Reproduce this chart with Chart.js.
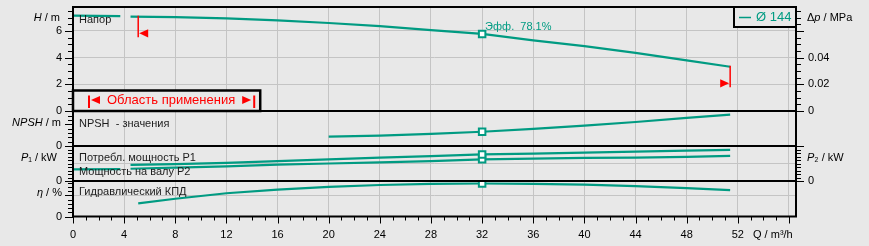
<!DOCTYPE html>
<html>
<head>
<meta charset="utf-8">
<script src="https://cdn.jsdelivr.net/npm/chart.js@4.4.1/dist/chart.umd.min.js"></script>
<style>
  body { margin: 0; background: #e8e8e8; }
  canvas { display: block; }
</style>
</head>
<body>
<canvas id="pump" width="869" height="246"></canvas>
<script>
const flowTicks = [0, 4, 8, 12, 16, 20, 24, 28, 32, 36, 40, 44, 48, 52];
const headTicks = [0, 2, 4, 6];
const dpTicks = [0, 0.02, 0.04];

const flowH = [0, 3.7, 4.1, 4.5, 8, 12, 16, 20, 24, 28, 32, 36, 40, 44, 48, 51.4];
const head = [7.15, 7.12, null, 7.08, 7.04, 6.95, 6.79, 6.6, 6.36, 6.06, 5.78, 5.3, 4.87, 4.36, 3.8, 3.32];

const flowNpsh = [20, 24, 28, 32, 36, 40, 44, 48, 51.4];
const npsh = [2.15, 2.4, 2.8, 3.3, 3.95, 4.7, 5.55, 6.5, 7.25];

const flowP1 = [4.5, 8, 12, 16, 20, 24, 28, 32, 36, 40, 44, 48, 51.4];
const powerP1 = [0.46, 0.48, 0.52, 0.57, 0.62, 0.67, 0.71, 0.76, 0.78, 0.81, 0.84, 0.87, 0.89];

const flowP2 = [0, 3.7, 4.1, 4.5, 8, 12, 16, 20, 24, 28, 32, 36, 40, 44, 48, 51.4];
const powerP2 = [0.33, 0.34, null, 0.35, 0.38, 0.42, 0.47, 0.5, 0.53, 0.57, 0.62, 0.64, 0.66, 0.67, 0.69, 0.72];

const flowEta = [5.1, 8, 12, 16, 20, 24, 28, 32, 36, 40, 44, 48, 51.4];
const efficiency = [31, 42, 55, 63.5, 70, 74.5, 77.3, 78.1, 77.3, 75.5, 72, 67, 62.5];

const bepFlow = 32;
const bepEta = 78.1;
const rangeFlow = [5.1, 51.4];
const rangeHead = [7.07, 3.32];
const impeller = 'Ø 144';

const teal = '#009b82';
const red = '#ff0000';
const bg = '#e8e8e8';
const gridGray = '#c4c4c4';
const family = "'Liberation Sans', Arial, sans-serif";
const font = { family, size: 11 };

const near = (a, b) => Math.abs(a - b) < 1e-6;
const isStep = (v, s) => near(v / s, Math.round(v / s));
const steps = (min, max, step) => {
  const out = [];
  for (let i = 0; min + i * step <= max + 1e-9; i++) out.push(+(min + i * step).toFixed(6));
  return out;
};
const pts = (xs, ys) => xs.map((x, i) => ({ x, y: ys[i] }));

const tickSteps = {
  x: [1, 4], yH: [0.5, 2], yNpsh: [1, 5], yP1: [0.1, 1], yEta: [10, 50],
  yDp: [0.005, 0.02], yP2: [0.1, 1]
};

function yAxis(pos, min, max, step, labels, grids, weight) {
  return {
    type: 'linear', position: pos, stack: pos, stackWeight: weight, min, max,
    afterFit: s => { s.width = 73; },
    afterBuildTicks: s => { s.ticks = steps(min, max, step).map(v => ({ value: v })); },
    border: { display: false },
    grid: {
      drawTicks: true, tickLength: pos === 'left' ? 11 : 12, tickColor: 'transparent',
      color: c => grids.some(g => near(g, c.tick.value)) ? gridGray : 'transparent'
    },
    ticks: {
      autoSkip: false, padding: 0, color: '#000', font,
      callback: v => {
        const l = labels.find(x => near(x, v));
        return l === undefined ? '' : String(l);
      }
    }
  };
}

function blank(pos, weight) {
  return {
    type: 'linear', position: pos, stack: pos, stackWeight: weight, min: 0, max: 1,
    afterFit: s => { s.width = 73; },
    border: { display: false },
    grid: { display: false },
    ticks: { display: false }
  };
}

function line(data, yAxisID) {
  return {
    data, yAxisID, xAxisID: 'x',
    borderColor: teal, borderWidth: 2.2, tension: 0, spanGaps: false,
    pointStyle: 'rect',
    pointRadius: c => c.raw && c.raw.x === bepFlow ? 4.6 : 0,
    pointHoverRadius: 0,
    pointBorderWidth: 2, pointBorderColor: teal, pointBackgroundColor: '#ffffff'
  };
}

function rich(c, parts, x, y, align, size) {
  let w = 0;
  parts.forEach(p => {
    c.font = (p[1] ? 'italic ' : '') + size + 'px ' + family;
    w += c.measureText(p[0]).width;
  });
  let cx = align === 'right' ? x - w : x;
  c.textAlign = 'left';
  c.textBaseline = 'middle';
  parts.forEach(p => {
    c.font = (p[1] ? 'italic ' : '') + size + 'px ' + family;
    c.fillText(p[0], cx, y);
    cx += c.measureText(p[0]).width;
  });
}

const decor = {
  id: 'decor',
  beforeDraw(chart) {
    const c = chart.ctx;
    c.save();
    c.fillStyle = bg;
    c.fillRect(0, 0, chart.width, chart.height);
    c.restore();
  },
  afterDatasetsDraw(chart) {
    const c = chart.ctx;
    const a = chart.chartArea;
    const s = chart.scales;
    c.save();

    // panel captions
    c.fillStyle = '#1c1c1c';
    c.font = '11px ' + family;
    c.textAlign = 'left';
    c.textBaseline = 'middle';
    c.fillText('Напор', a.left + 6, s.yH.top + 12.5);
    c.fillText('NPSH  - значения', a.left + 6, s.yNpsh.top + 12.5);
    c.fillText('Потребл. мощность P1', a.left + 6, s.yP1.top + 12);
    c.fillText('Мощность на валу P2', a.left + 6, s.yP1.top + 25.5);
    c.fillText('Гидравлический КПД', a.left + 6, s.yEta.top + 10.5);

    // best efficiency point label
    const bx = s.x.getPixelForValue(bepFlow);
    const by = s.yH.getPixelForValue(head[flowH.indexOf(bepFlow)]);
    c.fillStyle = teal;
    c.fillText('Эфф.  ' + bepEta + '%', bx + 3, by - 6.5);

    // operating range markers
    c.fillStyle = red;
    c.strokeStyle = red;
    c.lineWidth = 1.5;
    rangeFlow.forEach((q, i) => {
      const px = s.x.getPixelForValue(q);
      const py = s.yH.getPixelForValue(rangeHead[i]);
      const d = i === 0 ? 1 : -1;
      c.beginPath();
      c.moveTo(px, py - 1);
      c.lineTo(px, py + 20.5);
      c.stroke();
      c.beginPath();
      c.moveTo(px + d, py + 16.6);
      c.lineTo(px + d * 10, py + 12.4);
      c.lineTo(px + d * 10, py + 20.8);
      c.closePath();
      c.fill();
    });

    // panel borders
    c.strokeStyle = '#000';
    c.lineWidth = 2;
    ['yH', 'yNpsh', 'yP1', 'yEta'].forEach(id => {
      c.strokeRect(a.left, s[id].top, a.right - a.left, s[id].bottom - s[id].top);
    });

    // tick marks
    c.lineWidth = 1;
    Object.keys(tickSteps).forEach(id => {
      const sc = s[id];
      const [minor, major] = tickSteps[id];
      sc.ticks.forEach(t => {
        if (!isStep(t.value, minor)) return;
        const big = isStep(t.value, major);
        const p = Math.round(sc.getPixelForValue(t.value)) + 0.5;
        c.beginPath();
        if (id === 'x') {
          c.moveTo(p, a.bottom);
          c.lineTo(p, a.bottom + (big ? 7 : 4));
        } else if (sc.position === 'left') {
          c.moveTo(a.left - (big ? 8 : 5), p);
          c.lineTo(a.left, p);
        } else {
          c.moveTo(a.right, p);
          c.lineTo(a.right + (big ? 8 : 5), p);
        }
        c.stroke();
      });
    });

    // axis titles
    c.fillStyle = '#000';
    rich(c, [['H', true], [' / m', false]], a.left - 13, s.yH.top + 10.5, 'right', 11);
    rich(c, [['NPSH', true], [' / m', false]], a.left - 12, s.yNpsh.top + 11.5, 'right', 11);
    rich(c, [['P', true], ['₁', false], [' / kW', false]], a.left - 16, s.yP1.top + 11.5, 'right', 11);
    rich(c, [['η', true], [' / %', false]], a.left - 11, s.yEta.top + 11.5, 'right', 11);
    rich(c, [['Δ', false], ['p', true], [' / MPa', false]], a.right + 11, s.yDp.top + 10.5, 'left', 11);
    rich(c, [['P', true], ['₂', false], [' / kW', false]], a.right + 11, s.yP2.top + 11.5, 'left', 11);
    rich(c, [['Q / m³/h', false]], 753, a.bottom + 18.5, 'left', 11);

    // legend
    c.fillStyle = bg;
    c.fillRect(a.right - 62, a.top, 62, 20);
    c.strokeStyle = '#000';
    c.lineWidth = 2;
    c.strokeRect(a.right - 62, a.top, 62, 20);
    c.strokeStyle = teal;
    c.lineWidth = 1.5;
    c.beginPath();
    c.moveTo(a.right - 57, a.top + 10.5);
    c.lineTo(a.right - 45, a.top + 10.5);
    c.stroke();
    c.fillStyle = teal;
    c.font = '13px ' + family;
    c.textAlign = 'left';
    c.fillText(impeller, a.right - 40, a.top + 10.5);

    // operating range box
    const title = 'Область применения';
    c.font = '13px ' + family;
    const tw = c.measureText(title).width;
    const bt = s.yH.bottom - 20.5;
    const tx = a.left + 34;
    const cy = bt + 9.5;
    c.fillStyle = bg;
    c.fillRect(a.left, bt, tx + tw + 25 - a.left, 20.5);
    c.strokeStyle = '#000';
    c.lineWidth = 2.5;
    c.strokeRect(a.left, bt, tx + tw + 25 - a.left, 20.5);
    c.fillStyle = red;
    c.fillText(title, tx, cy);
    c.fillRect(a.left + 15, bt + 5, 2, 12.5);
    c.beginPath();
    c.moveTo(a.left + 18, cy);
    c.lineTo(a.left + 27, cy - 4);
    c.lineTo(a.left + 27, cy + 4);
    c.closePath();
    c.fill();
    const ex = tx + tw;
    c.beginPath();
    c.moveTo(ex + 16, cy);
    c.lineTo(ex + 7, cy - 4);
    c.lineTo(ex + 7, cy + 4);
    c.closePath();
    c.fill();
    c.fillRect(ex + 18, bt + 5, 2, 12.5);

    c.restore();
  }
};

new Chart(document.querySelector('#pump'), {
  type: 'line',
  data: {
    datasets: [
      line(pts(flowH, head), 'yH'),
      line(pts(flowNpsh, npsh), 'yNpsh'),
      line(pts(flowP1, powerP1), 'yP1'),
      line(pts(flowP2, powerP2), 'yP1'),
      line(pts(flowEta, efficiency), 'yEta')
    ]
  },
  options: {
    responsive: false,
    animation: false,
    devicePixelRatio: 1,
    layout: { padding: { top: 7, left: 0, right: 0, bottom: 0 } },
    plugins: { legend: { display: false }, tooltip: { enabled: false } },
    scales: {
      x: {
        type: 'linear', position: 'bottom', min: 0, max: 56.55,
        afterFit: s => { s.height = 29.5; },
        afterBuildTicks: s => { s.ticks = steps(0, 56, 1).map(v => ({ value: v })); },
        border: { display: false },
        grid: {
          drawTicks: true, tickLength: 12, tickColor: 'transparent',
          color: c => c.tick.value > 0 && isStep(c.tick.value, 4) ? gridGray : 'transparent'
        },
        ticks: {
          autoSkip: false, maxRotation: 0, padding: 0, color: '#000', font,
          callback: v => flowTicks.includes(v) ? String(v) : ''
        }
      },
      yEta: yAxis('left', 0, 84, 10, [0], [50], 35.5),
      yP1: yAxis('left', 0, 1, 0.1, [0], [0.5], 35),
      yNpsh: yAxis('left', 0, 8.1, 1, [0], [], 35),
      yH: yAxis('left', 0, 7.8, 0.5, headTicks, [2, 4, 6], 104),
      yDp: yAxis('right', 0, 0.078, 0.005, dpTicks, [], 104),
      yNpshR: blank('right', 35),
      yP2: yAxis('right', 0, 1, 0.1, [0], [], 35),
      yEtaR: blank('right', 35.5)
    }
  },
  plugins: [decor]
});
</script>
</body>
</html>
